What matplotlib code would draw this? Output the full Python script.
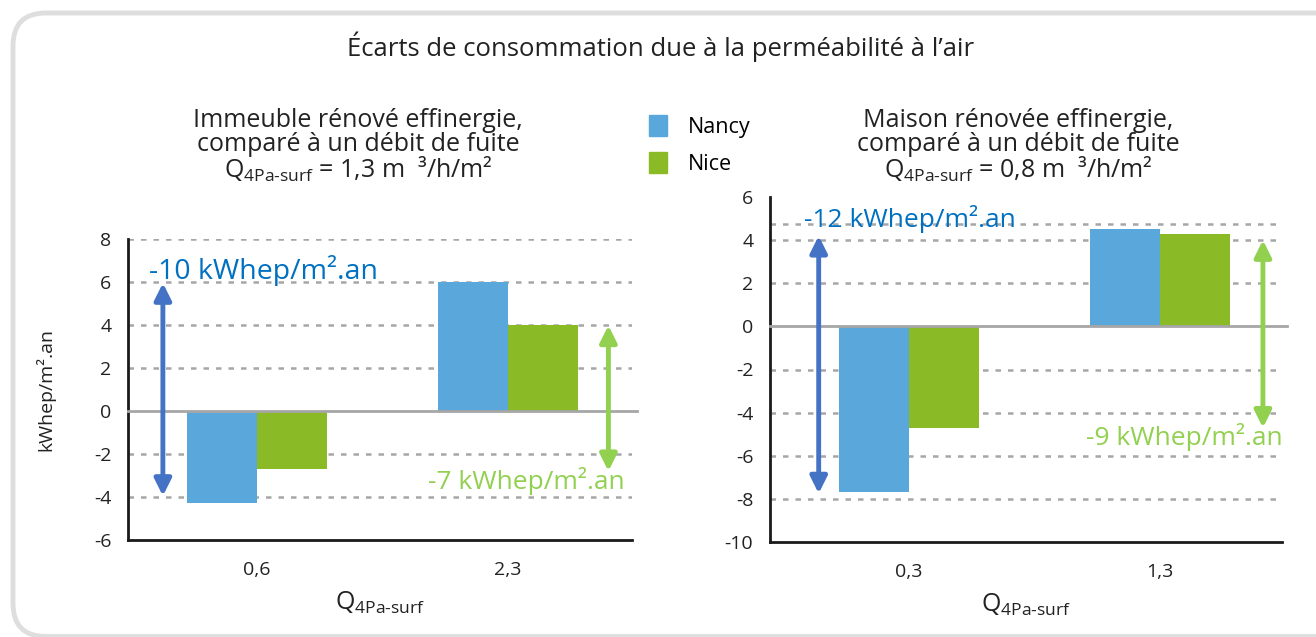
import matplotlib.pyplot as plt
from matplotlib.patches import FancyBboxPatch, Patch
import numpy as np

plt.rcParams['font.family'] = ['Open Sans', 'DejaVu Sans']
plt.rcParams['mathtext.fontset'] = 'custom'
plt.rcParams['mathtext.rm'] = 'Open Sans'
plt.rcParams['axes.unicode_minus'] = False

# données
villes = ['Nancy', 'Nice']
couleurs = ['#5aa7dc', '#8abb26']

cat_immeuble = ['0,6', '2,3']
nancy_immeuble = [-4.3, 6.0]
nice_immeuble = [-2.7, 4.0]

cat_maison = ['0,3', '1,3']
nancy_maison = [-7.7, 4.5]
nice_maison = [-4.7, 4.3]

bleu_fleche = '#4472c4'
vert_fleche = '#92d050'
gris_grille = '#a6a6a6'

q_sub = r'Q$_{\mathregular{4Pa\text{-}surf}}$'


def trace_barres(ax, categories, v_nancy, v_nice, ymin, ymax, grilles):
    x = np.arange(len(categories))
    largeur = 0.28
    ax.bar(x - largeur / 2, v_nancy, largeur, color=couleurs[0], zorder=2)
    ax.bar(x + largeur / 2, v_nice, largeur, color=couleurs[1], zorder=2)
    for g in grilles:
        ax.axhline(g, color=gris_grille, lw=1.8, linestyle=(0, (2.2, 2.8)), zorder=1)
    ax.axhline(0, color=gris_grille, lw=2, zorder=3, xmax=1.01, clip_on=False)
    ax.set_ylim(ymin, ymax)
    ax.set_yticks(np.arange(ymin, ymax + 1, 2))
    ax.set_xticks(x)
    ax.set_xticklabels(categories)
    ax.tick_params(length=0, labelsize=14, colors='#222222')
    ax.tick_params(axis='y', pad=12)
    ax.tick_params(axis='x', pad=15)
    for s in ['top', 'right']:
        ax.spines[s].set_visible(False)
    for s in ['left', 'bottom']:
        ax.spines[s].set_linewidth(2)
        ax.spines[s].set_color('#1a1a1a')
    ax.set_xlabel(q_sub, fontsize=18, labelpad=8, color='#222222')


def fleche(ax, x, y0, y1, couleur):
    ax.annotate('', xy=(x, y1), xytext=(x, y0),
                arrowprops=dict(arrowstyle='<|-|>', color=couleur, lw=3.5,
                                mutation_scale=25, shrinkA=0, shrinkB=0),
                zorder=4)


fig = plt.figure(figsize=(13.16, 6.37), dpi=100)

cadre = FancyBboxPatch((13 / 1316, 0.5 / 637), 1.1, (624 - 0.5) / 637,
                       boxstyle='round,pad=0,rounding_size=0.025',
                       transform=fig.transFigure, facecolor='white',
                       edgecolor='#dedede', lw=3.5, mutation_aspect=2.07, zorder=-5)
fig.patches.append(cadre)

fig.text(661 / 1316, 1 - 47 / 637, 'Écarts de consommation due à la perméabilité à l’air',
         ha='center', va='center', fontsize=18.5, color='#222222')

# (a) immeuble
ax1 = fig.add_axes([128 / 1316, 1 - 540 / 637, 504 / 1316, 301 / 637])
trace_barres(ax1, cat_immeuble, nancy_immeuble, nice_immeuble, -6, 8, [8, 6, 4, 2, -2, -4])
ax1.set_xlim(-0.514, 1.494)
ax1.set_ylabel('kWhep/m².an', fontsize=14, labelpad=28, color='#222222')
fleche(ax1, -0.375, -3.95, 5.95, bleu_fleche)
fleche(ax1, 1.40, -2.8, 3.98, vert_fleche)
ax1.text(-0.43, 6.55, '-10 kWhep/m².an', color='#0070c0', fontsize=20.5, va='center', ha='left')
ax1.text(1.465, -3.25, '-7 kWhep/m².an', color=vert_fleche, fontsize=19, va='center', ha='right')
fig.text(358 / 1316, 1 - 146 / 637,
         'Immeuble rénové effinergie,\ncomparé à un débit de fuite\n'
         + q_sub + ' = 1,3 m  ³/h/m²',
         ha='center', va='center', fontsize=18, linespacing=0.92, color='#222222')

# (b) maison
ax2 = fig.add_axes([770 / 1316, 1 - 542 / 637, 512 / 1316, 345 / 637])
trace_barres(ax2, cat_maison, nancy_maison, nice_maison, -10, 6, [4.73, 4, 2, -2, -4, -6, -8])
ax2.set_xlim(-0.554, 1.486)
fleche(ax2, -0.36, -7.75, 4.2, bleu_fleche)
fleche(ax2, 1.41, -4.7, 4.0, vert_fleche)
ax2.text(-0.42, 5.0, '-12 kWhep/m².an', color='#0070c0', fontsize=19, va='center', ha='left')
ax2.text(1.49, -5.15, '-9 kWhep/m².an', color=vert_fleche, fontsize=19, va='center', ha='right',
         clip_on=False)
fig.text(1018 / 1316, 1 - 146 / 637,
         'Maison rénovée effinergie,\ncomparé à un débit de fuite\n'
         + q_sub + ' = 0,8 m  ³/h/m²',
         ha='center', va='center', fontsize=18, linespacing=0.92, color='#222222')

handles = [Patch(color=c) for c in couleurs]
fig.legend(handles, villes, loc='upper left', bbox_to_anchor=(630 / 1316, 1 - 96 / 637),
           frameon=False, fontsize=15.5, handlelength=0.8, handleheight=1.1,
           labelspacing=0.65, handletextpad=1.0)

fig.savefig('out.png', dpi=100)
